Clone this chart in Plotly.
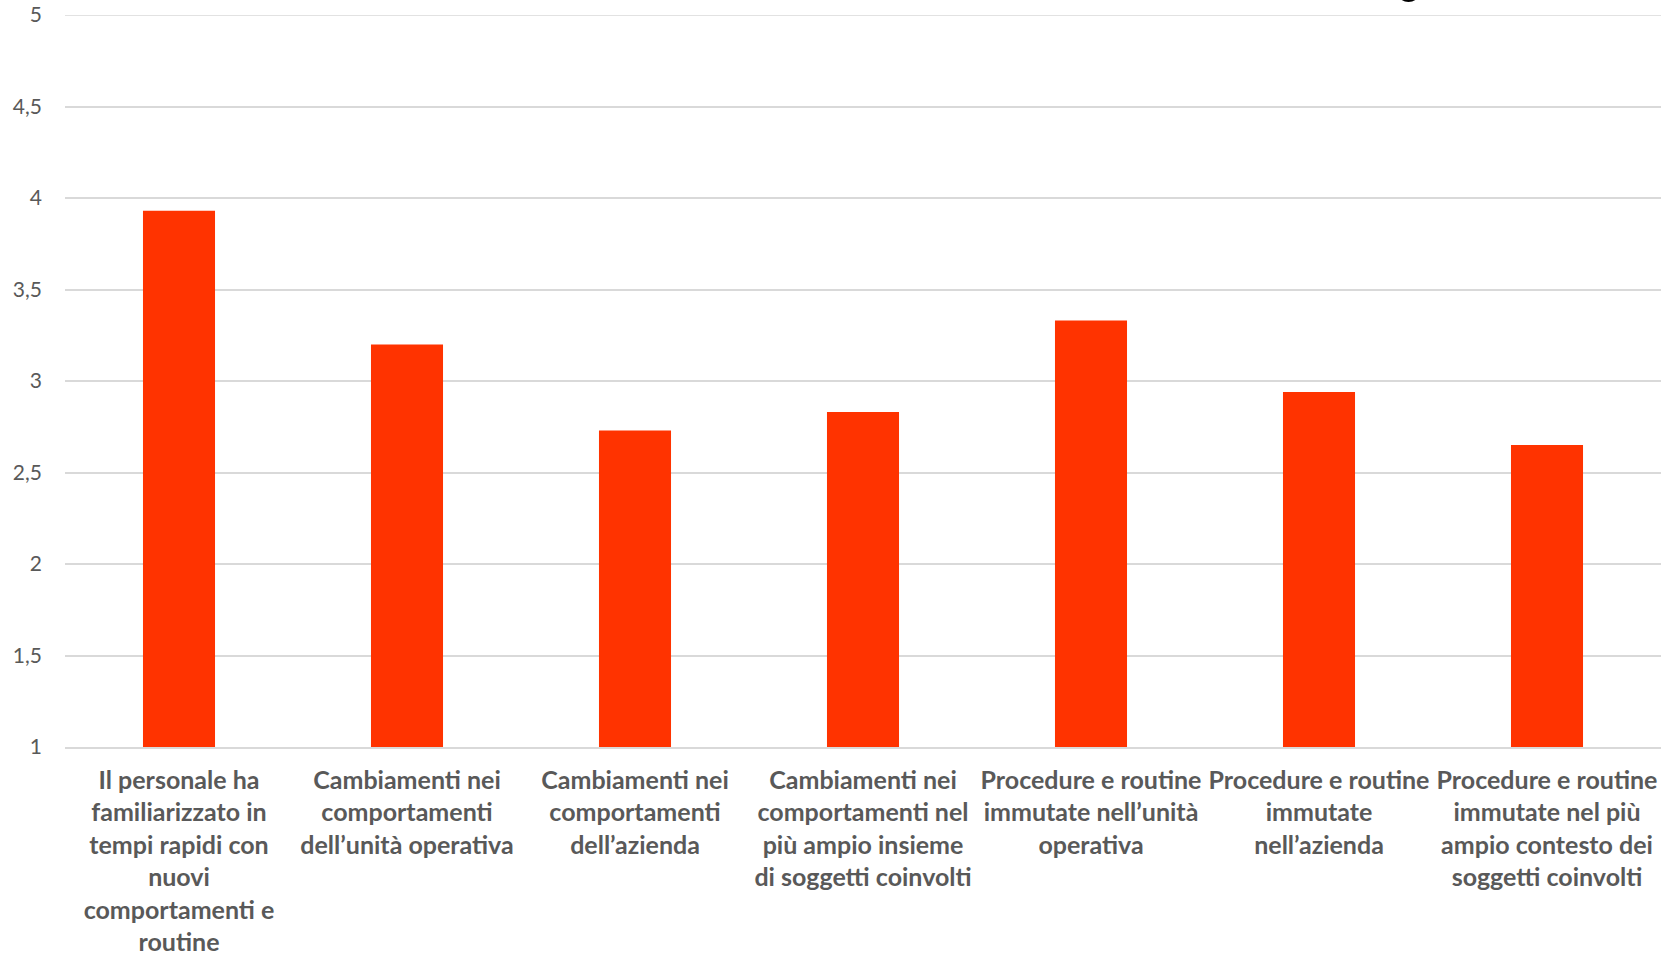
import plotly.graph_objects as go

# Category labels (wrapped over several lines) and mean scores
categories = [
    "Il personale ha<br>familiarizzato in<br>tempi rapidi con<br>nuovi<br>comportamenti e<br>routine",
    "Cambiamenti nei<br>comportamenti<br>dell’unità operativa",
    "Cambiamenti nei<br>comportamenti<br>dell’azienda",
    "Cambiamenti nei<br>comportamenti nel<br>più ampio insieme<br>di soggetti coinvolti",
    "Procedure e routine<br>immutate nell’unità<br>operativa",
    "Procedure e routine<br>immutate<br>nell’azienda",
    "Procedure e routine<br>immutate nel più<br>ampio contesto dei<br>soggetti coinvolti",
]
scores = [3.93, 3.20, 2.73, 2.83, 3.33, 2.94, 2.65]

y_ticks = [1, 1.5, 2, 2.5, 3, 3.5, 4, 4.5, 5]
y_tick_text = ["1", "1,5", "2", "2,5", "3", "3,5", "4", "4,5", "5"]

BAR_COLOR = "#ff3300"
GRID_COLOR = "#d9d9d9"
TEXT_COLOR = "#595959"

fig = go.Figure(
    go.Bar(
        x=list(range(len(categories))),
        y=scores,
        marker=dict(color=BAR_COLOR, line=dict(width=0)),
        hoverinfo="skip",
    )
)

fig.update_layout(
    width=1662,
    height=957,
    margin=dict(l=65, r=1, t=15, b=210),
    paper_bgcolor="white",
    plot_bgcolor="white",
    bargap=0.684,
    showlegend=False,
    font=dict(family="Lato, 'Open Sans', sans-serif", color=TEXT_COLOR),
    xaxis=dict(
        tickmode="array",
        tickvals=list(range(len(categories))),
        ticktext=[f"<b>{c}</b>" for c in categories],
        tickfont=dict(size=25, color=TEXT_COLOR),
        range=[-0.5, len(categories) - 0.5],
        showgrid=False,
        showline=True,
        linecolor=GRID_COLOR,
        linewidth=1.5,
        ticks="",
        ticklabelstandoff=10,
        zeroline=False,
        automargin=False,
    ),
    yaxis=dict(
        range=[1, 5],
        tickmode="array",
        tickvals=y_ticks,
        ticktext=y_tick_text,
        tickfont=dict(size=21, color=TEXT_COLOR),
        showgrid=True,
        gridcolor=GRID_COLOR,
        gridwidth=1.5,
        zeroline=False,
        showline=False,
        ticks="",
        ticklabelstandoff=22,
        automargin=False,
    ),
)

# Gridline at the top of the value range
fig.add_shape(
    type="line",
    xref="paper", yref="y",
    x0=0, x1=1, y0=5, y1=5,
    line=dict(color=GRID_COLOR, width=1.5),
    layer="below",
)

# Partially visible black round marker along the top edge
fig.add_shape(
    type="circle",
    xref="paper", yref="paper",
    x0=(1396 - 65) / 1596, x1=(1421 - 65) / 1596,
    y0=(732 + 13) / 732, y1=(732 + 38) / 732,
    fillcolor="black", line=dict(width=0),
)

fig.write_html("out.html")
